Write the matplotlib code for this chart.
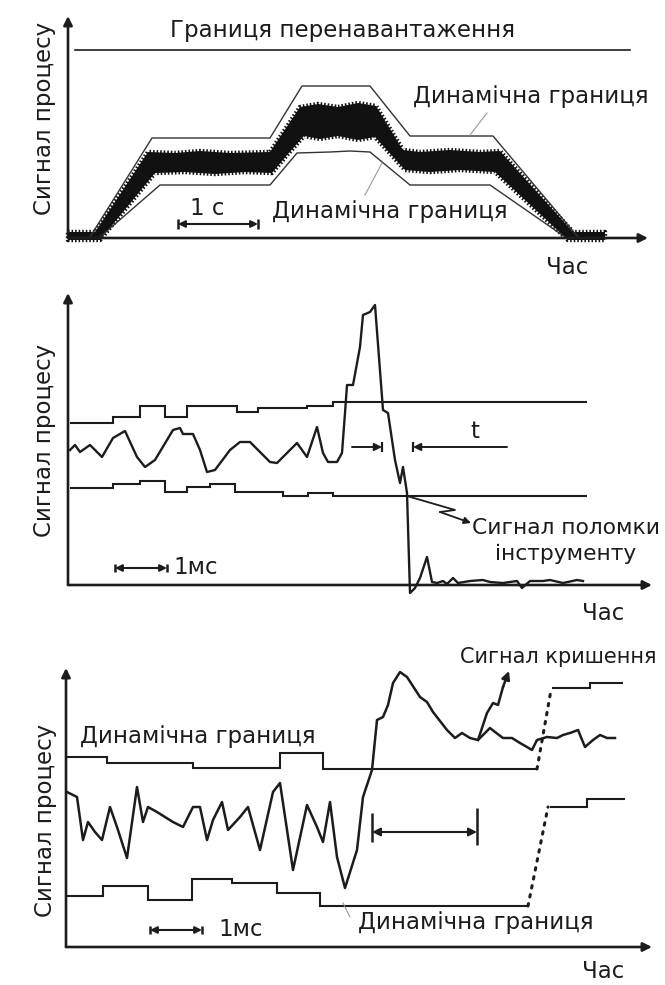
#!/usr/bin/env python3
"""Three schematic process-signal panels: overload/dynamic limits, tool breakage, chipping."""
import numpy as np
import matplotlib
matplotlib.use('Agg')
import matplotlib.pyplot as plt

plt.rcParams['font.family'] = ['DejaVu Sans']

W, H = 665, 985
INK = '#1c1c1c'
FS = 16.5

# ---- panel 1: slow process with overload and dynamic limits (time units, signal units)
P1_OVERLOAD_T = [7, 562]
P1_OVERLOAD_S = 188
P1_BAND_UP_T = [0, 27, 80, 107, 132, 162, 202, 214, 232, 250, 270, 290, 308, 335, 352, 382, 412, 432, 505, 537]
P1_BAND_UP_S = [6, 6, 86, 85, 87, 85, 86, 104, 131, 134, 131, 135, 132, 88, 86, 88, 86, 87, 6, 6]
P1_BAND_LO_T = [0, 32, 87, 117, 147, 177, 204, 220, 236, 252, 270, 290, 307, 337, 362, 392, 427, 500, 537]
P1_BAND_LO_S = [-2, -2, 65, 66, 64, 66, 65, 84, 102, 99, 102, 98, 101, 68, 66, 68, 66, -2, -2]
P1_DYN_UP_T = [22, 84, 202, 234, 302, 342, 425, 510]
P1_DYN_UP_S = [1, 100, 100, 152, 152, 102, 102, 1]
P1_DYN_LO_T = [32, 92, 202, 229, 262, 282, 302, 342, 422, 497]
P1_DYN_LO_S = [1, 53, 53, 85, 86, 87, 86, 53, 53, 1]

# ---- panel 2: tool breakage (step limits + signal)
P2_UP_EDGES = [2, 45, 72, 97, 119, 169, 190, 239, 265, 519]
P2_UP_LEVELS = [162, 168, 179, 168, 179, 173, 177, 179, 183]
P2_LO_EDGES = [2, 45, 72, 97, 119, 142, 167, 215, 240, 265, 519]
P2_LO_LEVELS = [97, 101, 104, 93, 98, 101, 93, 89, 92, 89]
P2_SIG_T = [2, 7, 12, 22, 34, 45, 57, 69, 77, 87, 105, 112, 115, 125, 132, 139, 147, 162, 172, 182,
            202, 209, 229, 239, 249, 255, 260, 269, 274, 277, 279, 285, 292, 295, 302, 307, 315, 320,
            327, 332, 335, 339, 342, 347, 352, 359, 364, 369, 375, 379, 385, 390, 402, 415, 422, 435,
            449, 454, 462, 475, 482, 495, 509, 515]
P2_SIG_S = [135, 140, 133, 140, 128, 147, 154, 128, 118, 125, 155, 157, 151, 151, 135, 113, 115, 135, 143, 143,
            123, 122, 142, 128, 158, 132, 123, 123, 132, 172, 200, 200, 238, 270, 273, 280, 175, 172,
            125, 102, 118, 92, -8, -3, 7, 28, 3, 2, 4, 1, 7, 2, 4, 5, 3, 2,
            4, -3, 4, 4, 5, 2, 5, 4]
P2_BREAK_T = [339, 387, 372, 399]
P2_BREAK_S = [89, 75, 73, 63]

# ---- panel 3: chipping (step limits, jump of limits, signal, chip branch)
P3_UP_EDGES = [1, 41, 127, 214, 257, 471]
P3_UP_LEVELS = [190, 184, 179, 194, 178]
P3_UP2_EDGES = [486, 524, 557]
P3_UP2_LEVELS = [259, 264]
P3_LO_EDGES = [1, 37, 82, 126, 166, 211, 254, 462]
P3_LO_LEVELS = [51, 61, 47, 68, 64, 54, 41]
P3_LO2_EDGES = [484, 521, 559]
P3_LO2_LEVELS = [140, 148]
P3_SIG_T = [1, 11, 17, 22, 29, 36, 44, 51, 61, 71, 77, 82, 91, 107, 117, 127, 134, 141, 147, 156,
            162, 174, 182, 194, 207, 214, 227, 241, 251, 257, 264, 271, 279, 291, 297, 306, 311, 317,
            322, 327, 334, 341, 354, 361, 367, 381, 389, 396, 404, 412, 424, 429, 437, 446, 454, 461,
            466, 471, 481, 491, 497, 504, 512, 519, 527, 534, 541, 549]
P3_SIG_S = [155, 150, 107, 125, 115, 107, 140, 120, 89, 160, 125, 140, 135, 125, 120, 140, 140, 107, 127, 145,
            117, 130, 140, 97, 155, 164, 77, 142, 120, 105, 145, 90, 59, 97, 150, 177, 227, 230,
            242, 264, 275, 270, 250, 245, 235, 217, 209, 214, 209, 207, 219, 215, 209, 209, 204, 200,
            197, 207, 210, 209, 212, 214, 217, 200, 207, 212, 209, 209]
P3_CHIP_T = [412, 421, 427, 432, 437]
P3_CHIP_S = [207, 234, 244, 242, 260]


def panel(y0, y1, ox, oy):
    ax = fig.add_axes([0, 1 - y1 / H, 1, (y1 - y0) / H])
    ax.set_xlim(-ox, W - ox)
    ax.set_ylim(oy - y1, oy - y0)
    ax.axis('off')
    return ax


def axes_arrows(ax, t_end, s_top):
    kw = dict(arrowstyle='-|>', lw=1.9, color=INK, shrinkA=0, shrinkB=0, mutation_scale=13)
    ax.annotate('', xy=(0, s_top), xytext=(0, 0), arrowprops=kw)
    ax.annotate('', xy=(t_end, 0), xytext=(0, 0), arrowprops=kw)


def scale_bar(ax, t0, t1, s, half=5):
    ax.annotate('', xy=(t1, s), xytext=(t0, s),
                arrowprops=dict(arrowstyle='<|-|>', lw=1.5, color=INK, shrinkA=0, shrinkB=0, mutation_scale=10))
    ax.vlines([t0, t1], s - half, s + half, color=INK, lw=1.8)


def ylabel(ax, t, s):
    ax.text(t, s, 'Сигнал процесу', rotation=90, ha='center', va='center', fontsize=FS, color=INK)


fig = plt.figure(figsize=(W / 100, H / 100), dpi=100)

# ------------------------------------------------------------------ panel 1
ax1 = panel(0, 272, 68, 238)
axes_arrows(ax1, 580, 222)
ax1.plot(P1_OVERLOAD_T, [P1_OVERLOAD_S] * 2, color=INK, lw=1.2)
band_t = np.r_[P1_BAND_UP_T, P1_BAND_LO_T[::-1]]
band_s = np.r_[P1_BAND_UP_S, P1_BAND_LO_S[::-1]]
ax1.fill(band_t, band_s, color='#111111', lw=0)
# fuzzy outline to mimic the noisy band edges
ax1.plot(np.r_[band_t, band_t[0]], np.r_[band_s, band_s[0]], color='#111111', lw=3.2,
         linestyle=(0, (0.35, 0.45)), dash_capstyle='butt')
ax1.plot(P1_DYN_UP_T, P1_DYN_UP_S, color='#333333', lw=1.0)
ax1.plot(P1_DYN_LO_T, P1_DYN_LO_S, color='#333333', lw=1.0)
ax1.plot([419, 402], [125, 103], color='#999999', lw=0.8)
ax1.plot([314, 297], [75, 43], color='#999999', lw=0.8)
scale_bar(ax1, 110, 190, 14)
ax1.text(139, 30, '1 с', ha='center', va='center', fontsize=FS, color=INK)
ax1.text(275, 208, 'Границя перенавантаження', ha='center', va='center', fontsize=FS, color=INK)
ax1.text(345, 141, 'Динамічна границя', ha='left', va='center', fontsize=FS, color=INK)
ax1.text(204, 27, 'Динамічна границя', ha='left', va='center', fontsize=FS, color=INK)
ax1.text(499, -29, 'Час', ha='center', va='center', fontsize=FS, color=INK)
ylabel(ax1, -23, 120)

# ------------------------------------------------------------------ panel 2
ax2 = panel(272, 632, 68, 585)
axes_arrows(ax2, 584, 292)
ax2.stairs(P2_UP_LEVELS, P2_UP_EDGES, baseline=None, color=INK, lw=1.5)
ax2.stairs(P2_LO_LEVELS, P2_LO_EDGES, baseline=None, color=INK, lw=1.5)
ax2.plot(P2_SIG_T, P2_SIG_S, color=INK, lw=1.7, solid_joinstyle='round')
ax2.annotate('', xy=(314, 138), xytext=(284, 138),
             arrowprops=dict(arrowstyle='-|>', lw=1.4, color=INK, shrinkA=0, shrinkB=0, mutation_scale=11))
ax2.annotate('', xy=(345, 138), xytext=(439, 138),
             arrowprops=dict(arrowstyle='-|>', lw=1.4, color=INK, shrinkA=0, shrinkB=0, mutation_scale=11))
ax2.vlines([314, 345], 133, 143, color=INK, lw=1.6)
ax2.text(407, 153, 't', ha='center', va='center', fontsize=FS, color=INK)
ax2.plot(P2_BREAK_T[:-1], P2_BREAK_S[:-1], color=INK, lw=1.3)
ax2.annotate('', xy=(P2_BREAK_T[-1] + 4, P2_BREAK_S[-1] - 1), xytext=(P2_BREAK_T[-2], P2_BREAK_S[-2]),
             arrowprops=dict(arrowstyle='-|>', lw=1.3, color=INK, shrinkA=0, shrinkB=0, mutation_scale=10))
ax2.text(498, 44, 'Сигнал поломки\nінструменту', ha='center', va='center', fontsize=FS - 0.8,
         color=INK, linespacing=1.35)
scale_bar(ax2, 47, 99, 17, half=4)
ax2.text(105, 17, '1мс', ha='left', va='center', fontsize=FS, color=INK)
ax2.text(535, -28, 'Час', ha='center', va='center', fontsize=FS, color=INK)
ylabel(ax2, -23, 145)

# ------------------------------------------------------------------ panel 3
ax3 = panel(632, 985, 66, 947)
axes_arrows(ax3, 586, 279)
ax3.stairs(P3_UP_LEVELS, P3_UP_EDGES, baseline=None, color=INK, lw=1.5)
ax3.stairs(P3_LO_LEVELS, P3_LO_EDGES, baseline=None, color=INK, lw=1.5)
ax3.stairs(P3_UP2_LEVELS, P3_UP2_EDGES, baseline=None, color=INK, lw=1.5)
ax3.stairs(P3_LO2_LEVELS, P3_LO2_EDGES, baseline=None, color=INK, lw=1.5)
dots = dict(color=INK, lw=2.2, linestyle=(0, (0.8, 2.2)), dash_capstyle='round')
ax3.plot([P3_UP_EDGES[-1], P3_UP2_EDGES[0] - 1], [P3_UP_LEVELS[-1], P3_UP2_LEVELS[0] - 2], **dots)
ax3.plot([P3_LO_EDGES[-1], P3_LO2_EDGES[0] - 2], [P3_LO_LEVELS[-1], P3_LO2_LEVELS[0]], **dots)
ax3.plot(P3_SIG_T, P3_SIG_S, color=INK, lw=1.8, solid_joinstyle='round')
ax3.plot(P3_CHIP_T, P3_CHIP_S, color=INK, lw=1.8)
ax3.annotate('', xy=(443, 276), xytext=(P3_CHIP_T[-1], P3_CHIP_S[-1]),
             arrowprops=dict(arrowstyle='-|>', lw=1.8, color=INK, shrinkA=0, shrinkB=0, mutation_scale=12))
ax3.annotate('', xy=(411, 115), xytext=(306, 115),
             arrowprops=dict(arrowstyle='<|-|>', lw=1.5, color=INK, shrinkA=0, shrinkB=0, mutation_scale=12))
ax3.vlines([306], 105, 134, color=INK, lw=1.8)
ax3.vlines([411], 102, 139, color=INK, lw=1.8)
ax3.plot([277, 284], [44, 30], color='#999999', lw=0.8)
scale_bar(ax3, 84, 136, 17, half=4)
ax3.text(152, 17, '1мс', ha='left', va='center', fontsize=FS, color=INK)
ax3.text(14, 210, 'Динамічна границя', ha='left', va='center', fontsize=FS, color=INK)
ax3.text(292, 24, 'Динамічна границя', ha='left', va='center', fontsize=FS, color=INK)
ax3.text(590, 290, 'Сигнал кришення', ha='right', va='center', fontsize=FS - 1.5, color=INK)
ax3.text(537, -25, 'Час', ha='center', va='center', fontsize=FS, color=INK)
ylabel(ax3, -21, 127)

fig.savefig('out.png', dpi=100, facecolor='white')
